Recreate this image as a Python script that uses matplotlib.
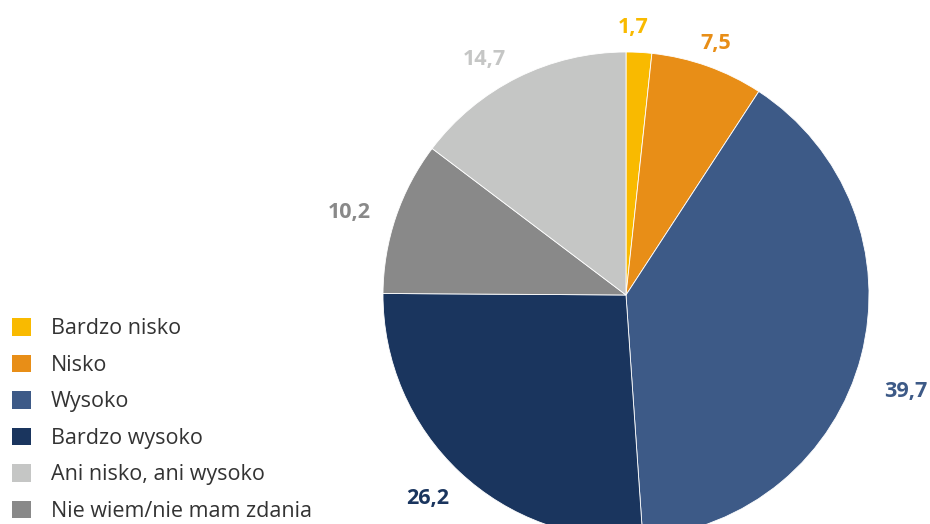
import matplotlib

matplotlib.use("Agg")
import matplotlib.pyplot as plt
import numpy as np
from matplotlib.patches import Patch

plt.rcParams["font.family"] = ["Open Sans", "DejaVu Sans"]

# pie order (clockwise from 12 o'clock)
categories = ["Bardzo nisko", "Nisko", "Wysoko", "Bardzo wysoko",
              "Nie wiem/nie mam zdania", "Ani nisko, ani wysoko"]
values = [1.7, 7.5, 39.7, 26.2, 10.2, 14.7]
colors = ["#F9BA00", "#E88E17", "#3D5A87", "#1A355E", "#898989", "#C5C6C5"]
# label placement tweaks (radius factor, angle nudge in degrees)
label_dist = [1.10, 1.10, 1.22, 1.17, 1.19, 1.13]
label_nudge = [1.6, 0.0, -4.5, -1.1, 2.1, 4.5]

# legend order
legend_order = ["Bardzo nisko", "Nisko", "Wysoko", "Bardzo wysoko",
                "Ani nisko, ani wysoko", "Nie wiem/nie mam zdania"]

W, H = 930, 524
fig = plt.figure(figsize=(W / 100, H / 100), dpi=100)
ax = fig.add_axes([0, 0, 1, 1])

cx, cy, r = 626, H - 295, 243
wedges, _ = ax.pie(values, colors=colors, startangle=90, counterclock=False,
                   center=(cx, cy), radius=r, frame=True,
                   wedgeprops=dict(linewidth=0.6, edgecolor="white"))
ax.set_xlim(0, W)
ax.set_ylim(0, H)
ax.set_aspect("equal")
ax.axis("off")

for w, v, c, d, nd in zip(wedges, values, colors, label_dist, label_nudge):
    ang = np.deg2rad((w.theta1 + w.theta2) / 2 + nd)
    ax.text(cx + r * d * np.cos(ang), cy + r * d * np.sin(ang),
            f"{v:.1f}".replace(".", ","), color=c, fontsize=15.5,
            fontweight="bold", ha="center", va="center")

col = dict(zip(categories, colors))
handles = [Patch(facecolor=col[n], edgecolor="none", label=n) for n in legend_order]
fig.legend(handles=handles, loc="upper left", bbox_to_anchor=(12 / W, 1 - 318 / H),
           frameon=False, fontsize=15.5, handlelength=0.88, handleheight=0.88,
           handletextpad=0.93, labelspacing=0.71, borderpad=0, borderaxespad=0,
           labelcolor="#333333")

fig.savefig("out.png", dpi=100)
